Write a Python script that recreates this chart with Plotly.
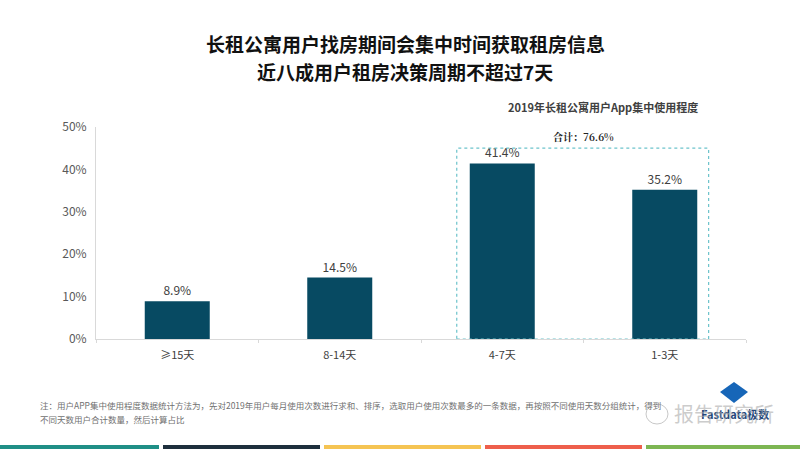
import plotly.graph_objects as go

# chart data
categories = ['≥15天', '8-14天', '4-7天', '1-3天']
shares = [0.089, 0.145, 0.414, 0.352]
total_label = '合计：76.6%'

title_lines = ['长租公寓用户找房期间会集中时间获取租房信息', '近八成用户租房决策周期不超过7天']
subtitle = '2019年长租公寓用户App集中使用程度'
note_lines = ['注：用户APP集中使用程度数据统计方法为，先对2019年用户每月使用次数进行求和、排序，选取用户使用次数最多的一条数据，再按照不同使用天数分组统计，得到',
              '不同天数用户合计数量，然后计算占比']
watermark = '报告研究所'
logo_text = 'Fastdata极数'

stripe_colors = ['#1f8f86', '#1e2f3d', '#f5c453', '#ee5f4c', '#7db653']

font_cn = 'Noto Sans CJK SC'

W, H = 800, 449
L, R, T, B = 96, 54, 127, 110


# pixel position -> paper coords (paper = plot area)
def px(x):
    return (x - L) / (W - L - R)


def py(y):
    return (H - B - y) / (H - T - B)


fig = go.Figure()

fig.add_trace(go.Bar(
    x=categories, y=shares,
    width=0.4,
    marker=dict(color='#074a62', line=dict(width=0)),
    text=[f'{v*100:.1f}%' for v in shares],
    textposition='outside',
    textfont=dict(size=12, color='#404040', family=font_cn),
    cliponaxis=False,
))

# dotted box around the two short-cycle bars
fig.add_shape(type='rect', xref='x', yref='y',
              x0=1.72, x1=3.27, y0=0, y1=0.45,
              line=dict(color='#6cc3cb', width=1.2, dash='dot'))

fig.add_annotation(x=2.5, y=0.45, xref='x', yref='y', text='<b>' + total_label + '</b>',
                   showarrow=False, yanchor='bottom', yshift=2,
                   font=dict(size=10, color='#222222', family='Noto Serif CJK SC, ' + font_cn))

# titles
for i, line in enumerate(title_lines):
    fig.add_annotation(x=px(405), y=py(44 + 27 * i), xref='paper', yref='paper',
                       text='<b>' + line + '</b>', showarrow=False,
                       xanchor='center', yanchor='middle',
                       font=dict(size=19, color='#111111', family=font_cn))

fig.add_annotation(x=px(603), y=py(107), xref='paper', yref='paper',
                   text='<b>' + subtitle + '</b>', showarrow=False,
                   xanchor='center', yanchor='middle',
                   font=dict(size=11, color='#404040', family=font_cn))

for i, line in enumerate(note_lines):
    fig.add_annotation(x=px(38), y=py(405 + 14 * i), xref='paper', yref='paper',
                       text=line, showarrow=False, xanchor='left', yanchor='middle',
                       font=dict(size=8.5, color='#707070', family=font_cn))

# logo + wechat watermark at bottom right
fig.add_shape(type='path', xref='paper', yref='paper',
              path=f'M {px(734)} {py(382)} L {px(748)} {py(392)} L {px(734)} {py(403)} '
                   f'L {px(720)} {py(392)} Z',
              fillcolor='#1766b8', line=dict(width=0))
fig.add_shape(type='circle', xref='paper', yref='paper',
              x0=px(646), x1=px(668), y0=py(424), y1=py(404),
              line=dict(color='#c8c8c8', width=1))
fig.add_annotation(x=px(735), y=py(414), xref='paper', yref='paper',
                   text='<b>' + logo_text + '</b>', showarrow=False,
                   xanchor='center', yanchor='middle',
                   font=dict(size=11, color='#24477a', family=font_cn))
fig.add_annotation(x=px(724), y=py(413), xref='paper', yref='paper',
                   text=watermark, showarrow=False,
                   xanchor='center', yanchor='middle',
                   font=dict(size=20, color='rgba(170,170,170,0.6)', family=font_cn))

# coloured stripe at the bottom
for i, c in enumerate(stripe_colors):
    fig.add_shape(type='rect', xref='paper', yref='paper',
                  x0=px(i * 161 + (2 if i else 0)), x1=px(i * 161 + 159 if i < 4 else W),
                  y0=py(H), y1=py(H - 4), line=dict(width=0), fillcolor=c)

fig.update_layout(
    width=W, height=H,
    margin=dict(l=L, r=R, t=T, b=B, autoexpand=False),
    paper_bgcolor='white', plot_bgcolor='white',
    showlegend=False,
    font=dict(family=font_cn),
    yaxis=dict(range=[0, 0.5], dtick=0.1, tickformat='.0%', showgrid=False,
               showline=True, linecolor='#d9d9d9', linewidth=1, zeroline=False,
               ticks='', tickfont=dict(size=12, color='#595959'), ticklabelstandoff=6),
    xaxis=dict(showline=True, linecolor='#d9d9d9', linewidth=1, showgrid=False,
               ticks='outside', tickson='boundaries', ticklen=3, tickcolor='#d9d9d9',
               tickfont=dict(size=11, color='#404040'), ticklabelstandoff=6),
)

# drop the default page margin so the figure sits at the window corner
fig.write_html('out.html', config={'displayModeBar': False},
               post_script="document.body.style.margin='0';")
